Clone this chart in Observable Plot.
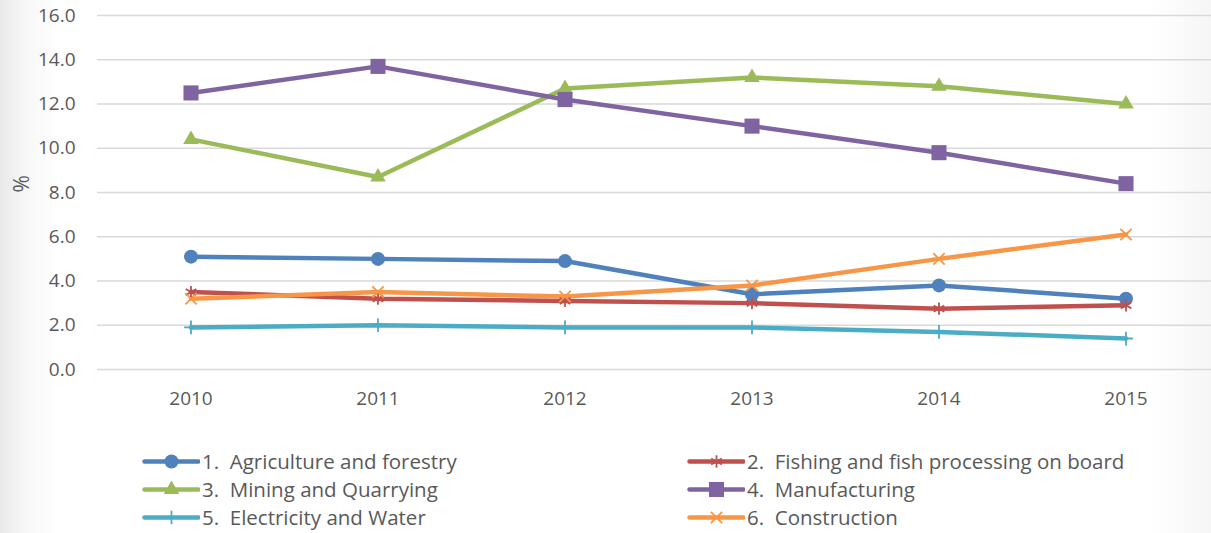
<!DOCTYPE html>
<html>
<head>
<meta charset="utf-8">
<script src="https://cdn.jsdelivr.net/npm/d3@7"></script>
<script src="https://cdn.jsdelivr.net/npm/@observablehq/plot@0.6"></script>
<style>
  html, body { margin: 0; padding: 0; }
  body {
    width: 1211px; height: 533px; overflow: hidden;
    background: linear-gradient(to right, #e9e9e9 0px, #f7f7f7 25px, #ffffff 60px, #ffffff 1150px, #f6f6f6 1211px);
    font-family: "Open Sans", Lato, sans-serif;
  }
  #chart svg { display: block; background: transparent !important; }
  #legend { position: relative; height: 113px; }
  .item { position: absolute; display: flex; align-items: center; height: 28px; font-size: 20.5px; color: #595959; white-space: pre; }
  .item svg { display: block; margin-right: 2px; }
</style>
</head>
<body>
<div id="chart"></div>
<div id="legend"></div>
<script>
const years = [2010, 2011, 2012, 2013, 2014, 2015];
const seriesNames = [
  "1.  Agriculture and forestry",
  "2.  Fishing and fish processing on board",
  "3.  Mining and Quarrying",
  "4.  Manufacturing",
  "5.  Electricity and Water",
  "6.  Construction"
];
const agriculture   = [5.1, 5.0, 4.9, 3.4, 3.8, 3.2];
const fishing       = [3.5, 3.2, 3.1, 3.0, 2.75, 2.9];
const mining        = [10.4, 8.7, 12.7, 13.2, 12.8, 12.0];
const manufacturing = [12.5, 13.7, 12.2, 11.0, 9.8, 8.4];
const electricity   = [1.9, 2.0, 1.9, 1.9, 1.7, 1.4];
const construction  = [3.2, 3.5, 3.3, 3.8, 5.0, 6.1];
const yTicks = [0, 2, 4, 6, 8, 10, 12, 14, 16];

const colors  = ["#4f81bd", "#c0504d", "#9bbb59", "#8064a2", "#4bacc6", "#f79646"];
const symbols = ["circle", "asterisk", "triangle", "square", "plus", "times"];
const radii   = [7, 5.8, 5.8, 8.5, 4.5, 5.2];
const allValues = [agriculture, fishing, mining, manufacturing, electricity, construction];

const filled = sym => sym === "circle" || sym === "triangle" || sym === "square";

const series = seriesNames.map((name, i) => ({
  name, color: colors[i], symbol: symbols[i], r: radii[i],
  data: years.map((year, j) => ({year, value: allValues[i][j], name}))
}));

const textStyle = {fontSize: 19, fill: "#595959"};

const marks = [
  Plot.ruleY(yTicks, {stroke: "#d9d9d9", strokeWidth: 1.3}),
  Plot.axisY({ticks: yTicks, tickFormat: d3.format(".1f"), tickSize: 0, tickPadding: 22, label: null, ...textStyle}),
  Plot.axisX({ticks: years, tickFormat: d => String(d), tickSize: 0, tickPadding: 22, label: null, ...textStyle}),
  Plot.text(["%"], {frameAnchor: "left", dx: -75, rotate: -90, fontSize: 21, fill: "#595959"})
];
for (const s of series) {
  marks.push(Plot.line(s.data, {x: "year", y: "value", stroke: s.color, strokeWidth: 4.5}));
}
for (const s of series) {
  marks.push(Plot.dot(s.data, filled(s.symbol)
    ? {x: "year", y: "value", symbol: () => s.symbol, r: s.r, fill: s.color, stroke: "none"}
    : {x: "year", y: "value", symbol: () => s.symbol, r: s.r, stroke: s.color, strokeWidth: 1.8}));
}

const chart = Plot.plot({
  width: 1211,
  height: 420,
  marginLeft: 97,
  marginRight: 0,
  marginTop: 15,
  marginBottom: 51,
  style: {fontFamily: "'Open Sans', Lato, sans-serif", background: "transparent"},
  x: {type: "linear", domain: [2009.5, 2015.5], range: [97, 1219]},
  y: {domain: [0, 16]},
  symbol: {type: "identity"},
  marks
});
document.getElementById("chart").appendChild(chart);

// Legend
const legend = document.getElementById("legend");
const positions = [
  [142, 0], [687, 0],
  [142, 1], [687, 1],
  [142, 2], [687, 2]
];
series.forEach((s, i) => {
  const [left, row] = positions[i];
  const div = document.createElement("div");
  div.className = "item";
  div.style.left = left + "px";
  div.style.top = (27 + row * 28) + "px";
  const sw = Plot.plot({
    width: 58, height: 20, margin: 0,
    x: {domain: [0, 1], range: [2, 56], axis: null},
    y: {domain: [0, 1], range: [20, 0], axis: null},
    symbol: {type: "identity"},
    style: {background: "transparent"},
    marks: [
      Plot.line([{x: 0, y: 0.5}, {x: 1, y: 0.5}], {x: "x", y: "y", stroke: s.color, strokeWidth: 4.5, strokeLinecap: "round"}),
      filled(s.symbol)
        ? Plot.dot([{x: 0.5, y: 0.5}], {x: "x", y: "y", symbol: () => s.symbol, r: s.r, fill: s.color, stroke: "none"})
        : Plot.dot([{x: 0.5, y: 0.5}], {x: "x", y: "y", symbol: () => s.symbol, r: s.r, stroke: s.color, strokeWidth: 1.8})
    ]
  });
  div.appendChild(sw);
  const span = document.createElement("span");
  span.textContent = s.name;
  div.appendChild(span);
  legend.appendChild(div);
});
</script>
</body>
</html>
